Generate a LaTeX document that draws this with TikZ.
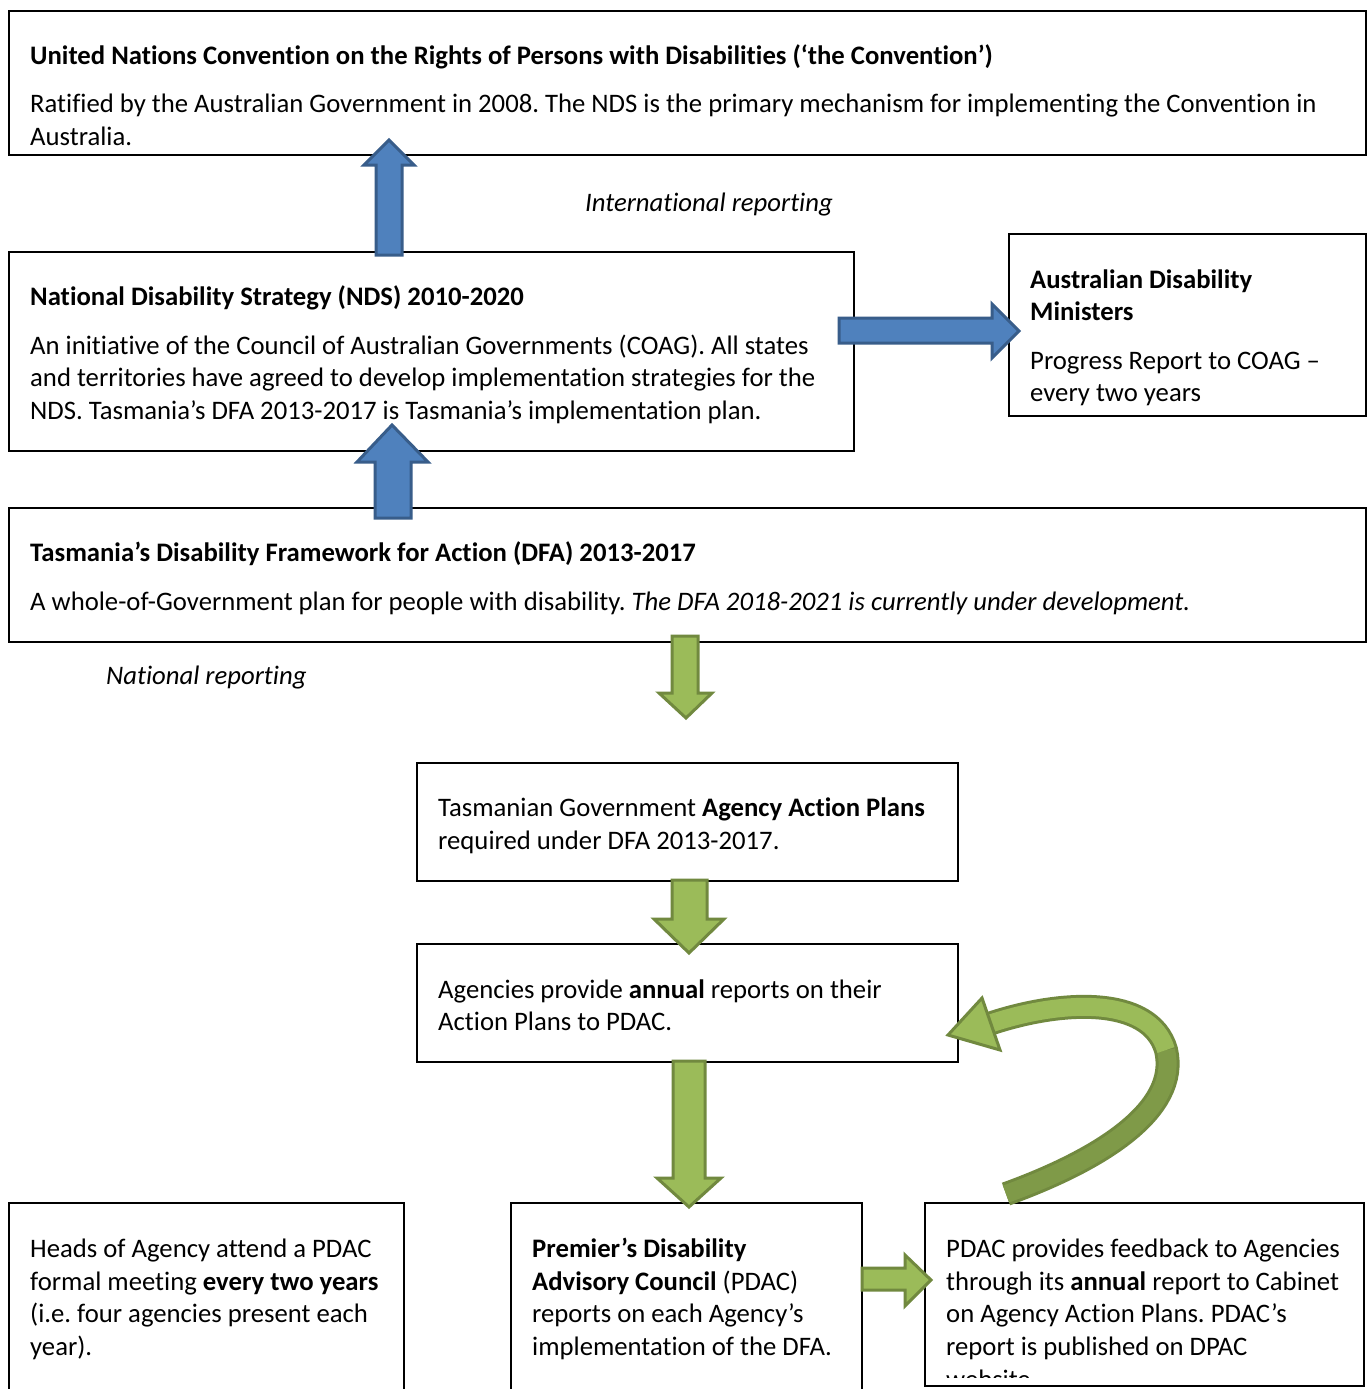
\documentclass[tikz,border=0pt]{standalone}
\usepackage{fontspec}
\setmainfont{Carlito}[Ligatures=NoCommon]
\frenchspacing
\begin{document}
\begin{tikzpicture}[x=1pt,y=-1pt,
  box/.style={draw=black,line width=1.8pt},
  txt/.style={anchor=base west,inner sep=0pt,font=\fontsize{26.7}{32.6}\selectfont},
  blk/.style={draw=blueline,fill=bluefill,line width=3pt,line join=miter},
  grn/.style={draw=greenline,fill=greenfill,line width=3pt,line join=miter}]
\definecolor{bluefill}{HTML}{4F81BD}
\definecolor{blueline}{HTML}{385D8A}
\definecolor{greenfill}{HTML}{9BBB59}
\definecolor{greenline}{HTML}{71893F}
\definecolor{greendark}{HTML}{7F9A48}
\useasboundingbox (0,0) rectangle (1370,1389);
\clip (0,0) rectangle (1370,1389);
\fill[white] (0,0) rectangle (1370,1389);

% boxes
\draw[box] (9,11) rectangle (1366,155);
\draw[box] (9,252) rectangle (854,451);
\draw[box] (1009,234) rectangle (1366,416);
\draw[box] (9,508) rectangle (1366,642);
\draw[box] (417,763) rectangle (958,881);
\draw[box] (417,944) rectangle (958,1062);
\draw[box] (9,1203) rectangle (404,1400);
\draw[box] (511,1203) rectangle (862,1400);
\draw[box] (925,1203) rectangle (1364,1386);

% UN box
\node[txt] (un1) at (30,64) {\bfseries United Nations Convention on the Rights of Persons with Disabilities (‘the Convention’)};
\node[txt] (un2) at (30,112) {Ratified by the Australian Government in 2008. The NDS is the primary mechanism for implementing the Convention in};
\node[txt] (un3) at (30,145) {Australia.};

\node[txt,anchor=base] (intl) at (709,211) {\itshape International reporting};

% NDS
\node[txt] (nds1) at (30,305) {\bfseries National Disability Strategy (NDS) 2010-2020};
\node[txt] (nds2) at (30,354) {An initiative of the Council of Australian Governments (COAG). All states};
\node[txt] (nds3) at (30,386) {and territories have agreed to develop implementation strategies for the};
\node[txt] (nds4) at (30,419) {NDS. Tasmania’s DFA 2013-2017 is Tasmania’s implementation plan.};

% ADM
\node[txt] (adm1) at (1030,288) {\bfseries Australian Disability};
\node[txt] (adm2) at (1030,320) {\bfseries Ministers};
\node[txt] (adm3) at (1030,369) {Progress Report to COAG –};
\node[txt] (adm4) at (1030,401) {every two years};

% DFA
\node[txt] (dfa1) at (30,561) {\bfseries Tasmania’s Disability Framework for Action (DFA) 2013-2017};
\node[txt] (dfa2) at (30,610) {A whole-of-Government plan for people with disability. \itshape The DFA 2018-2021 is currently under development.};

\node[txt] (natl) at (106,684) {\itshape National reporting};

% Agency action plans
\node[txt] (aap1) at (438,816) {Tasmanian Government \textbf{Agency Action Plans}};
\node[txt] (aap2) at (438,849) {required under DFA 2013-2017.};

% Agencies provide
\node[txt] (ap1) at (438,998) {Agencies provide \textbf{annual} reports on their};
\node[txt] (ap2) at (438,1030) {Action Plans to PDAC.};

% Heads
\node[txt] (h1) at (30,1257) {Heads of Agency attend a PDAC};
\node[txt] (h2) at (30,1290) {formal meeting \textbf{every two years}};
\node[txt] (h3) at (30,1322) {(i.e. four agencies present each};
\node[txt] (h4) at (30,1355) {year).};

% PDAC
\node[txt] (p1) at (532,1257) {\bfseries Premier’s Disability};
\node[txt] (p2) at (532,1290) {\textbf{Advisory Council} (PDAC)};
\node[txt] (p3) at (532,1322) {reports on each Agency’s};
\node[txt] (p4) at (532,1355) {implementation of the DFA.};

% feedback
\node[txt] (f1) at (946,1257) {PDAC provides feedback to Agencies};
\node[txt] (f2) at (946,1290) {through its \textbf{annual} report to Cabinet};
\node[txt] (f3) at (946,1322) {on Agency Action Plans. PDAC’s};
\node[txt] (f4) at (946,1355) {report is published on DPAC};
\begin{scope}
\clip (926,1204) rectangle (1363,1377);
\node[txt] (f5) at (946,1388) {website.};
\end{scope}

% blue arrows
\draw[blk] (376,255) -- (376,165) -- (364,165) -- (389,140) -- (414,165) -- (402,165) -- (402,255) -- cycle;
\draw[blk] (839,318) -- (992,318) -- (992,304) -- (1019,331) -- (992,358) -- (992,343) -- (839,343) -- cycle;
\draw[blk] (375,518) -- (375,462) -- (357,462) -- (392,425) -- (428,462) -- (411,462) -- (411,518) -- cycle;

% green arrows
\draw[grn] (672,636) -- (698,636) -- (698,693) -- (712,693) -- (686,718) -- (659,693) -- (672,693) -- cycle;
\draw[grn] (672,880) -- (707,880) -- (707,919) -- (724,919) -- (689,953) -- (654,919) -- (672,919) -- cycle;
\draw[grn] (673,1061) -- (705,1061) -- (705,1178) -- (721,1178) -- (689,1207) -- (657,1178) -- (673,1178) -- cycle;
\draw[grn] (862,1268) -- (905,1268) -- (905,1255) -- (931,1280) -- (905,1306) -- (905,1290) -- (862,1290) -- cycle;

% curved arrow
\draw[greenline,line width=24pt,line cap=butt] (989,1024) .. controls (1060,1000) and (1150,995) .. (1166,1050) .. controls (1180,1110) and (1100,1160) .. (1006,1194);
\draw[greendark,line width=18pt,line cap=butt] (1166,1050) .. controls (1180,1110) and (1100,1160) .. (1006,1194);
\draw[greenfill,line width=18pt,line cap=butt] (989,1024) .. controls (1060,1000) and (1150,995) .. (1166,1050);
\draw[grn] (948,1035) -- (982,998) -- (1000,1050) -- cycle;
\end{tikzpicture}
\end{document}
